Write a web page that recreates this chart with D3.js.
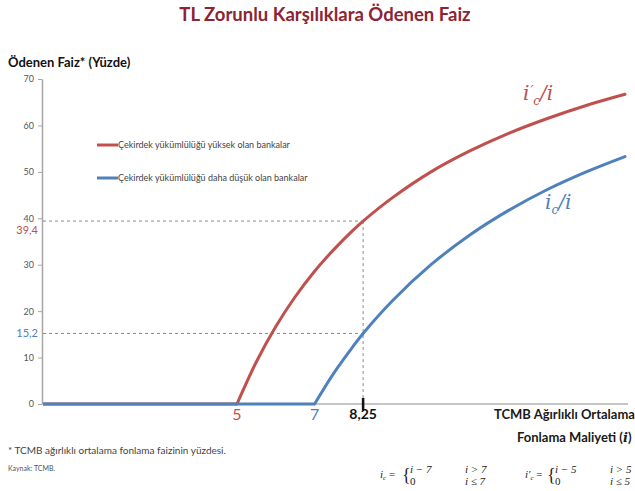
<!DOCTYPE html>
<html>
<head>
<meta charset="utf-8">
<title>TL Zorunlu Karşılıklara Ödenen Faiz</title>
<script src="https://d3js.org/d3.v7.min.js"></script>
<style>
  body { margin: 0; background: #fff; }
  svg { font-family: Lato, "Open Sans", sans-serif; }
</style>
</head>
<body>
<svg width="635" height="491"></svg>
<script>
// values
var redX  = [0, 5, 5.5, 6, 6.5, 7, 7.5, 8, 8.25, 9, 10, 11, 12, 13, 14, 15];
var redY  = [0, 0, 9.1, 16.7, 23.1, 28.6, 33.3, 37.5, 39.4, 44.4, 50, 54.5, 58.3, 61.5, 64.3, 66.7];
var blueX = [0, 7, 7.5, 8, 8.25, 9, 10, 11, 12, 13, 14, 15];
var blueY = [0, 0, 6.7, 12.5, 15.2, 22.2, 30, 36.4, 41.7, 46.2, 50, 53.3];
var yTicks = [0, 10, 20, 30, 40, 50, 60, 70];
var markI = 8.25;
var markRed = 39.4, markBlue = 15.2;
var legendLabels = ["Çekirdek yükümlülüğü yüksek olan bankalar",
                    "Çekirdek yükümlülüğü daha düşük olan bankalar"];

var RED = "#c0504d", BLUE = "#4f81bd";

var svg = d3.select("svg");

var x = d3.scaleLinear().domain([0, 15]).range([43, 625]);
var y = d3.scaleLinear().domain([0, 70]).range([404, 79]);

// title
svg.append("text")
    .attr("x", 325).attr("y", 21)
    .attr("text-anchor", "middle")
    .attr("font-size", 18.5).attr("font-weight", "bold")
    .attr("fill", "#8c2434")
    .text("TL Zorunlu Karşılıklara Ödenen Faiz");

svg.append("text")
    .attr("x", 8).attr("y", 67)
    .attr("font-size", 13).attr("font-weight", "bold")
    .attr("fill", "#111")
    .text("Ödenen Faiz* (Yüzde)");

// y axis
var yAxis = svg.append("g")
    .attr("transform", "translate(42,0)")
    .call(d3.axisLeft(y).tickValues(yTicks).tickSize(4).tickSizeOuter(0).tickPadding(4));
yAxis.select(".domain").attr("stroke", "#a6a6a6").attr("stroke-width", 1.5);
yAxis.selectAll(".tick line").attr("stroke", "#a6a6a6");
yAxis.selectAll(".tick text").attr("font-size", 9).attr("fill", "#555").attr("font-family", "Lato, sans-serif");

// x axis line
svg.append("line")
    .attr("x1", x(0)).attr("x2", 628)
    .attr("y1", y(0)).attr("y2", y(0))
    .attr("stroke", "#8c8c8c").attr("stroke-width", 1);

// dashed guides
var guide = svg.append("g")
    .attr("stroke", "#8a8a8a").attr("stroke-width", 1).attr("stroke-dasharray", "3,3").attr("fill", "none");
[markRed, markBlue].forEach(function(v) {
  guide.append("line")
      .attr("x1", 43).attr("x2", x(markI))
      .attr("y1", y(v)).attr("y2", y(v));
});
guide.append("line")
    .attr("x1", x(markI)).attr("x2", x(markI))
    .attr("y1", y(markRed)).attr("y2", y(0));

svg.append("text")
    .attr("x", 38).attr("y", y(markRed) + 13)
    .attr("text-anchor", "end").attr("font-size", 11).attr("fill", RED)
    .text(String(markRed).replace(".", ","));
svg.append("text")
    .attr("x", 38).attr("y", y(markBlue) + 4)
    .attr("text-anchor", "end").attr("font-size", 11).attr("fill", BLUE)
    .text(String(markBlue).replace(".", ","));

// series: flat part straight, rising part smooth
function drawSeries(xs, ys, color) {
  var pts = xs.map(function(d, i) { return [d, ys[i]]; });
  var k = 0;
  while (k + 1 < pts.length && pts[k + 1][1] === 0) k++;
  var flat = pts.slice(0, k + 1), rise = pts.slice(k);
  var straight = d3.line().x(function(d) { return x(d[0]); }).y(function(d) { return y(d[1]); });
  var smooth = d3.line().x(function(d) { return x(d[0]); }).y(function(d) { return y(d[1]); }).curve(d3.curveCatmullRom.alpha(0.5));
  svg.append("path").datum(flat).attr("d", straight)
      .attr("fill", "none").attr("stroke", color).attr("stroke-width", 3);
  svg.append("path").datum(rise).attr("d", smooth)
      .attr("fill", "none").attr("stroke", color).attr("stroke-width", 3).attr("stroke-linecap", "round");
}
drawSeries(redX, redY, RED);
drawSeries(blueX, blueY, BLUE);

// legend
var legend = svg.append("g");
legendLabels.forEach(function(t, i) {
  var ly = 145 + i * 33;
  legend.append("line")
      .attr("x1", 97).attr("x2", 118).attr("y1", ly).attr("y2", ly)
      .attr("stroke", i ? BLUE : RED).attr("stroke-width", 3);
  legend.append("text")
      .attr("x", 118).attr("y", ly + 3)
      .attr("font-size", 9).attr("fill", "#444")
      .text(t);
});

// curve labels
function ratioLabel(lx, ly, prime, color) {
  var t = svg.append("text")
      .attr("x", lx).attr("y", ly)
      .attr("font-family", "'DejaVu Serif', 'Liberation Serif', serif")
      .attr("font-style", "italic").attr("font-size", 20).attr("fill", color);
  t.append("tspan").text("i");
  if (prime) t.append("tspan").attr("font-size", 13).attr("dx", 1).attr("dy", -5).text("′");
  t.append("tspan").attr("font-size", 12).attr("dy", prime ? 10 : 5).text("c");
  t.append("tspan").attr("dy", -5).text("/i");
}
ratioLabel(523, 100, true, RED);
ratioLabel(545, 209, false, BLUE);

// x labels
svg.append("text").attr("x", x(5)).attr("y", 420).attr("text-anchor", "middle")
    .attr("font-size", 16).attr("fill", RED).text("5");
svg.append("text").attr("x", x(7)).attr("y", 420).attr("text-anchor", "middle")
    .attr("font-size", 16).attr("fill", BLUE).text("7");
svg.append("line")
    .attr("x1", x(markI)).attr("x2", x(markI)).attr("y1", 398).attr("y2", 410)
    .attr("stroke", "#111").attr("stroke-width", 2.5);
svg.append("text").attr("x", x(markI)).attr("y", 419).attr("text-anchor", "middle")
    .attr("font-size", 14).attr("font-weight", "bold").attr("fill", "#111").text(String(markI).replace(".", ","));

svg.append("text").attr("x", 494).attr("y", 419)
    .attr("font-size", 13).attr("font-weight", "bold").attr("fill", "#1a1a1a")
    .text("TCMB Ağırlıklı Ortalama");
var xt2 = svg.append("text").attr("x", 517).attr("y", 442)
    .attr("font-size", 13).attr("font-weight", "bold").attr("fill", "#1a1a1a");
xt2.append("tspan").text("Fonlama Maliyeti (");
xt2.append("tspan").attr("font-family", "'DejaVu Serif', serif").attr("font-style", "italic").text("i");
xt2.append("tspan").text(")");

// notes
svg.append("text").attr("x", 8).attr("y", 454)
    .attr("font-size", 10).attr("fill", "#444")
    .text("* TCMB ağırlıklı ortalama fonlama faizinin yüzdesi.");
svg.append("text").attr("x", 8).attr("y", 471)
    .attr("font-size", 7).attr("fill", "#555")
    .text("Kaynak: TCMB.");

// formulas
function formula(fx, prime, k) {
  var g = svg.append("g").attr("font-family", "'Liberation Serif', 'DejaVu Serif', serif")
      .attr("font-size", 11).attr("fill", "#222");
  var lhs = g.append("text").attr("x", fx).attr("y", 478).attr("font-style", "italic");
  lhs.append("tspan").text(prime ? "i′" : "i");
  lhs.append("tspan").attr("font-size", 7).attr("dy", 2).text("c");
  lhs.append("tspan").attr("dy", -2).attr("font-style", "normal").text(" =");
  g.append("text").attr("x", fx + 22).attr("y", 481).attr("font-size", 18).text("{");
  g.append("text").attr("x", fx + 30).attr("y", 473).attr("font-style", "italic").text("i − " + k);
  g.append("text").attr("x", fx + 30).attr("y", 485).text("0");
  g.append("text").attr("x", fx + 85).attr("y", 473).attr("font-style", "italic").text("i > " + k);
  g.append("text").attr("x", fx + 85).attr("y", 485).attr("font-style", "italic").text("i ≤ " + k);
}
formula(380, false, 7);
formula(525, true, 5);
</script>
</body>
</html>
